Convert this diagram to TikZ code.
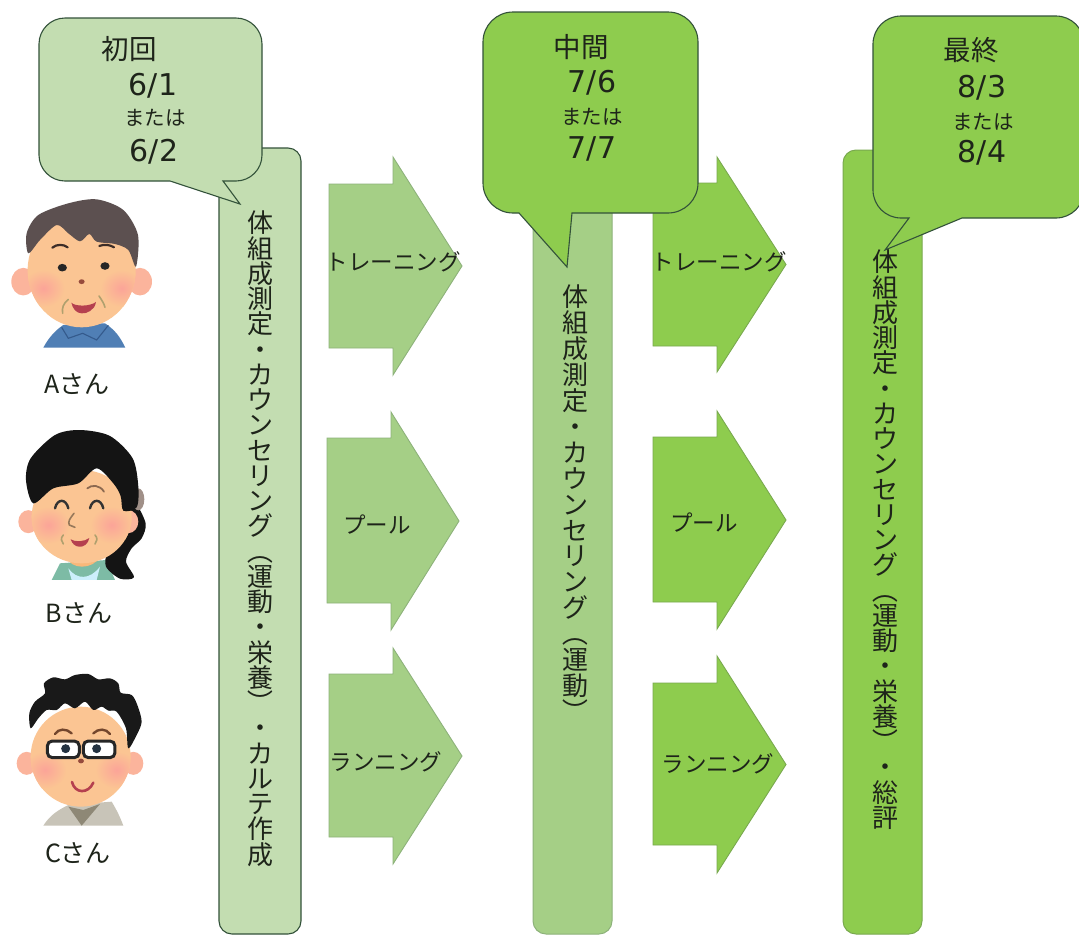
\documentclass[tikz,border=0pt]{standalone}
\usepackage{fontspec}
\setmainfont{Noto Sans CJK JP}
\newfontfamily\latnfont{DejaVu Sans}
\definecolor{paleG}{HTML}{C3DDB1}
\definecolor{midG}{HTML}{A5CF86}
\definecolor{brightG}{HTML}{8ECC4E}
\definecolor{darkE}{HTML}{33523A}
\definecolor{midE}{HTML}{8DB27A}
\definecolor{brightE}{HTML}{79A94E}
\definecolor{inkc}{HTML}{1E241A}
\definecolor{skin}{HTML}{FBC593}
\definecolor{ear}{HTML}{FBB49C}
\definecolor{cheek}{HTML}{FBA498}
\definecolor{mouthc}{HTML}{B5404F}
\definecolor{shirtA}{HTML}{507FB5}
\definecolor{collarA}{HTML}{345A8C}
\definecolor{hairA}{HTML}{5C5050}
\definecolor{browA}{HTML}{3C2D28}
\definecolor{nosec}{HTML}{964B3C}
\definecolor{wrink}{HTML}{AFA06E}
\definecolor{shirtB}{HTML}{7DBBA5}
\definecolor{neckB}{HTML}{F9B87A}
\definecolor{tieB}{HTML}{A09088}
\definecolor{browB}{HTML}{8C6950}
\definecolor{noseB}{HTML}{96785A}
\definecolor{jacket}{HTML}{C8C4B8}
\definecolor{tieC}{HTML}{8E8876}
\definecolor{browC}{HTML}{73462D}
\definecolor{pupil}{HTML}{233241}
\newcommand{\lparv}{\rotatebox[origin=c]{-90}{（}}
\newcommand{\rparv}{\rotatebox[origin=c]{-90}{）}}
\newcommand{\bubble}[6]{% left right top bottom radius pointer-path
  (#1,#3+#5) arc[start angle=180,end angle=90,radius=#5pt] -- (#2-#5,#3)
  arc[start angle=90,end angle=0,radius=#5pt] -- (#2,#4-#5)
  arc[start angle=0,end angle=-90,radius=#5pt] -- #6 -- (#1+#5,#4)
  arc[start angle=270,end angle=180,radius=#5pt] -- cycle}
\newcommand{\bararrow}[7]{% left headbase tip top bodytop bodybottom bottom
  (#1,#5) -- (#2,#5) -- (#2,#4) -- (#3,{(#4+#7)/2}) -- (#2,#7) -- (#2,#6) -- (#1,#6) -- cycle}
\newcommand{\earsat}[4]{\fill[ear] (#1,#3) ellipse[x radius=#4pt*0.3333,y radius=#4pt*0.3333*1.15];
  \fill[ear] (#2,#3) ellipse[x radius=#4pt*0.3333,y radius=#4pt*0.3333*1.15];}
% head with two soft cheeks kept inside it: cx cy rx ry, cheek1 x, cheek2 x, cheek y
\newcommand{\headat}[7]{\fill[skin] (#1,#2) ellipse[x radius=#3pt*0.3333,y radius=#4pt*0.3333];
  \begin{scope}
  \clip (#1,#2) ellipse[x radius=#3pt*0.3333,y radius=#4pt*0.3333];
  \shade[inner color=cheek,outer color=skin] (#5,#7) ellipse[x radius=64pt*0.3333,y radius=56pt*0.3333];
  \shade[inner color=cheek,outer color=skin] (#6,#7) ellipse[x radius=64pt*0.3333,y radius=56pt*0.3333];
  \end{scope}}
\lineskiplimit=-100pt
\tikzset{
  cap1/.style={draw=darkE,line width=1.1pt,fill=paleG},
  cap2/.style={draw=darkE,line width=1.1pt,fill=brightG},
  barA/.style={draw=darkE,line width=1.1pt,fill=paleG,rounded corners=13pt},
  barB/.style={draw=midE,line width=1pt,fill=midG,rounded corners=13pt},
  barC/.style={draw=brightE,line width=1pt,fill=brightG,rounded corners=13pt},
  arA/.style={draw=midE,line width=.9pt,fill=midG},
  arB/.style={draw=brightE,line width=.9pt,fill=brightG},
  tx/.style={inner sep=0pt,text=inkc},
  headT/.style={tx,font=\fontsize{27.5}{30}\selectfont},
  dateT/.style={tx,font=\latnfont\fontsize{30}{32}\selectfont},
  orT/.style={tx,font=\fontsize{20.5}{22}\selectfont},
  arT/.style={tx,font=\fontsize{22.5}{26}\selectfont},
  nameT/.style={tx,font=\fontsize{25}{28}\selectfont},
  vertT/.style={tx,anchor=north,align=center,font=\fontsize{26}{25.25}\selectfont},
  vertW/.style={tx,anchor=north,align=center,font=\fontsize{26}{25.9}\selectfont},
  faceF/.style={shift={#1},x=0.3333pt,y=-0.3333pt},
  blob/.style={smooth cycle,tension=.5},
  fineL/.style={line cap=round,line width=1.6pt}
}
\begin{document}
\begin{tikzpicture}[x=1pt,y=-1pt]
\useasboundingbox (0,0) rectangle (1079,935);
\clip (0,0) rectangle (1079,935);
\fill[white] (0,0) rectangle (1079,935);

% bars
\draw[barA] (219,148) rectangle (301,934);
\draw[barB] (533,150) rectangle (612,934);
\draw[barC] (843,150) rectangle (922,934);

% arrows
\draw[arA] \bararrow{329}{393}{462}{157}{184}{348}{375};
\draw[arA] \bararrow{327}{391}{459}{412}{438}{603}{630};
\draw[arA] \bararrow{329}{393}{462}{648}{674}{837}{864};
\draw[arB] \bararrow{653}{717}{786}{157}{183}{346}{372};
\draw[arB] \bararrow{653}{717}{786}{411}{437}{602}{629};
\draw[arB] \bararrow{653}{717}{786}{656}{683}{845}{873};

% call-outs
\draw[cap1] \bubble{39}{262}{18}{181}{26}{(223,181) -- (240,204) -- (170,181)};
\draw[cap2] \bubble{483}{698}{12}{213}{30}{(572,213) -- (567,267) -- (519,213)};
\draw[cap2] \bubble{873}{1084}{16}{218}{28}{(962,218) -- (885,250) -- (909,218)};

% call-out texts
\node[headT] (h1) at (129,49) {初回};
\node[dateT] (d1a) at (153,86) {6/1};
\node[orT]   (o1) at (155,118) {または};
\node[dateT] (d1b) at (154,152) {6/2};
\node[headT] (h2) at (581,47) {中間};
\node[dateT] (d2a) at (592,83) {7/6};
\node[orT]   (o2) at (592,117) {または};
\node[dateT] (d2b) at (592,149) {7/7};
\node[headT] (h3) at (971,50) {最終};
\node[dateT] (d3a) at (982,88) {8/3};
\node[orT]   (o3) at (983,122) {または};
\node[dateT] (d3b) at (982,153) {8/4};

% vertical bar texts
\node[vertT] (v1) at (260,211) {体\\組\\成\\測\\定\\・\\カ\\ウ\\ン\\セ\\リ\\ン\\グ\\\lparv\\運\\動\\・\\栄\\養\\\rparv\\・\\カ\\ル\\テ\\作\\成};
\node[vertW] (v2) at (575,285) {体\\組\\成\\測\\定\\・\\カ\\ウ\\ン\\セ\\リ\\ン\\グ\\\lparv\\運\\動\\\rparv};
\node[vertT] (v3) at (885,250) {体\\組\\成\\測\\定\\・\\カ\\ウ\\ン\\セ\\リ\\ン\\グ\\\lparv\\運\\動\\・\\栄\\養\\\rparv\\・\\総\\評};

% arrow labels
\node[arT] (a1) at (393,262) {トレーニング};
\node[arT] (a2) at (377,525) {プール};
\node[arT] (a3) at (386,762) {ランニング};
\node[arT] (b1) at (719,262) {トレーニング};
\node[arT] (b2) at (704,523) {プール};
\node[arT] (b3) at (718,764) {ランニング};

% person labels
\node[nameT] (na) at (77,384) {Aさん};
\node[nameT] (nb) at (79,613) {Bさん};
\node[nameT] (nc) at (78,853) {Cさん};

% person A
\begin{scope}[faceF={(0,170)}]
  \fill[shirtA] (130,533) .. controls (150,495) and (175,475) .. (190,465) -- (315,460) .. controls (345,480) and (360,500) .. (376,533) -- cycle;
  \draw[line width=1.1pt,draw=collarA] (185,472) -- (205,505) -- (248,490) -- (290,510) -- (325,466);
  \earsat{70}{420}{335}{36}
  \headat{245}{300}{162}{172}{130}{365}{355}
  \fill[hairA] plot[blob] coordinates {(85,250) (80,190) (115,135) (205,100) (290,88) (370,120) (414,195) (408,290) (385,240) (345,222) (290,215) (268,192) (240,214) (205,190) (170,165) (120,210)};
  \draw[line width=2.2pt,line cap=round,draw=browA] (157,233) .. controls (170,222) and (190,222) .. (203,232);
  \draw[line width=2.2pt,line cap=round,draw=browA] (298,228) .. controls (312,222) and (330,224) .. (342,232);
  \fill[black!85] (187,293) ellipse[x radius=4.6pt,y radius=3.8pt];
  \fill[black!85] (315,288) ellipse[x radius=4.6pt,y radius=3.8pt];
  \fill[nosec] (245,335) ellipse[x radius=3pt,y radius=2.4pt];
  \fill[mouthc] (214,398) .. controls (225,410) and (270,410) .. (288,396) .. controls (285,420) and (260,432) .. (245,430) .. controls (228,430) and (218,415) .. (214,398) -- cycle;
  \draw[fineL,draw=wrink] (205,388) .. controls (190,400) and (185,415) .. (188,430);
  \draw[fineL,draw=wrink] (297,378) .. controls (305,390) and (312,400) .. (315,412);
\end{scope}

% person B
\begin{scope}[faceF={(0,420)}]
  \fill[shirtB] (155,480) -- (180,430) -- (320,420) -- (345,480) -- cycle;
  \fill[white!80!cyan] (205,445) .. controls (230,480) and (270,480) .. (300,440) -- (290,480) -- (215,480) -- cycle;
  \fill[neckB] (200,410) .. controls (210,450) and (280,450) .. (300,410) -- cycle;
  \fill[black!92] plot[blob] coordinates {(405,250) (437,310) (425,355) (395,385) (378,425) (402,472) (360,476) (318,440) (322,395) (350,340) (380,290)};
  \fill[tieB] (415,238) ellipse[x radius=6pt,y radius=11pt];
  \earsat{85}{385}{305}{30}
  \headat{245}{290}{150}{140}{145}{335}{315}
  \fill[black!92] plot[blob] coordinates {(100,250) (78,180) (92,115) (165,45) (240,30) (330,48) (398,115) (415,200) (410,262) (370,272) (362,228) (340,190) (290,145) (235,190) (160,205)};
  \draw[line width=1.8pt,line cap=round,draw=browB] (262,205) .. controls (275,193) and (300,195) .. (312,215);
  \draw[line width=2.4pt,line cap=round,draw=black!80] (165,265) .. controls (172,235) and (198,235) .. (205,265);
  \draw[line width=2.4pt,line cap=round,draw=black!80] (270,265) .. controls (277,235) and (303,235) .. (310,265);
  \draw[fineL,draw=noseB] (222,280) .. controls (210,295) and (203,305) .. (208,315) -- (225,322);
  \fill[mouthc] (212,358) .. controls (225,367) and (255,365) .. (268,354) .. controls (265,372) and (250,382) .. (238,380) .. controls (225,380) and (216,370) .. (212,358) -- cycle;
  \draw[fineL,draw=wrink] (190,345) .. controls (180,355) and (185,365) .. (190,372);
  \draw[fineL,draw=wrink] (285,345) .. controls (295,355) and (290,365) .. (285,372);
\end{scope}

% person C
\begin{scope}[faceF={(0,660)}]
  \fill[jacket] (130,497) .. controls (150,465) and (175,450) .. (205,435) -- (335,425) .. controls (350,450) and (360,470) .. (370,497) -- cycle;
  \fill[tieC] (205,440) -- (245,497) -- (300,432) -- (250,450) -- cycle;
  \earsat{80}{400}{310}{30}
  \headat{242}{290}{150}{150}{135}{350}{330}
  \fill[black!90] plot[blob] coordinates {(92,205) (88,160) (105,125) (135,100) (132,70) (160,52) (195,58) (225,45) (265,42) (295,58) (330,55) (355,70) (362,98) (395,105) (412,135) (425,185) (410,225) (385,265) (378,205) (350,155) (325,152) (305,140) (280,150) (255,125) (225,145) (195,130) (170,150) (140,150) (115,175)};
  \draw[line width=2.4pt,line cap=round,draw=browC] (165,222) .. controls (175,205) and (200,205) .. (215,220);
  \draw[line width=2.4pt,line cap=round,draw=browC] (280,220) .. controls (295,205) and (318,205) .. (330,222);
  \draw[line width=3pt,draw=black!85,fill=white,rounded corners=5pt] (142,243) rectangle (238,293);
  \draw[line width=3pt,draw=black!85,fill=white,rounded corners=5pt] (250,243) rectangle (345,293);
  \fill[pupil] (197,266) circle[radius=4.5pt];
  \fill[pupil] (290,266) circle[radius=4.5pt];
  \fill[nosec] (243,303) ellipse[x radius=3pt,y radius=2.4pt];
  \draw[line width=2.6pt,line cap=round,draw=mouthc] (216,366) .. controls (225,402) and (265,402) .. (280,368);
\end{scope}
\end{tikzpicture}
\end{document}
